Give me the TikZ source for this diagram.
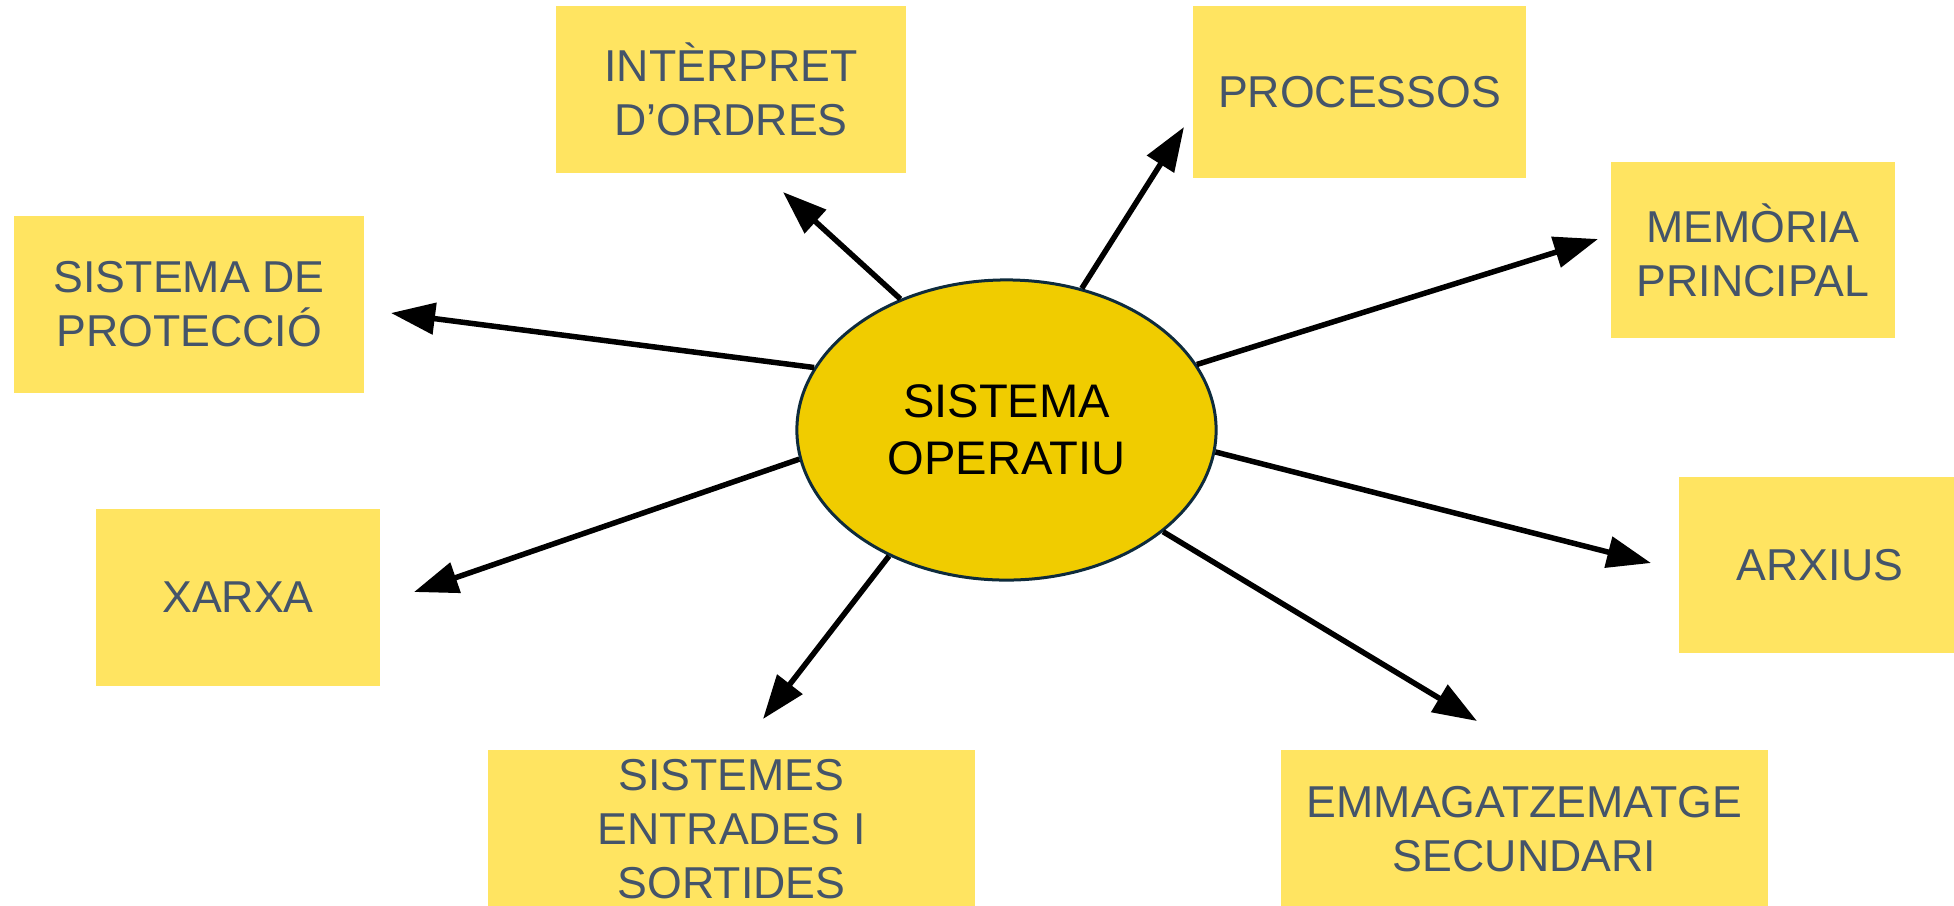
\documentclass[tikz,border=0pt]{standalone}
\usepackage{fontspec}
\setmainfont{Liberation Sans}
\usetikzlibrary{arrows.meta,shapes.geometric}

\definecolor{boxfill}{HTML}{FFE461}
\definecolor{boxtext}{HTML}{44546A}
\definecolor{sofill}{HTML}{F0CC00}
\definecolor{soline}{HTML}{0E2B3C}

\begin{document}
\begin{tikzpicture}[x=0.01cm,y=-0.01cm,
  box/.style={fill=boxfill,text=boxtext,align=center,inner sep=0cm,minimum height=1.76cm,
    font=\fontsize{12.7}{15.3}\selectfont},
  sys/.style={draw=soline,line width=0.03cm,fill=sofill,ellipse,align=center,inner sep=0cm,
    minimum width=4.19cm,minimum height=3cm,font=\fontsize{13.4}{16.2}\selectfont},
  arr/.style={line width=0.055cm,-{Triangle[length=0.44cm,width=0.31cm]}}]

  \useasboundingbox (0,0) rectangle (1954,905);
  \clip (0,0) rectangle (1954,905);

  \node[box,minimum width=3.50cm,minimum height=1.67cm] (int) at (731,89.5) {INTÈRPRET\\D’ORDRES};
  \node[box,minimum width=3.33cm,minimum height=1.72cm] (proc) at (1359.5,92) {PROCESSOS};
  \node[box,minimum width=2.84cm] (mem) at (1753,250) {MEMÒRIA\\PRINCIPAL};
  \node[box,minimum width=3.50cm] (prot) at (189,304.5) {SISTEMA DE\\PROTECCIÓ};
  \node[box,minimum width=2.84cm] (xarxa) at (238,597.5) {XARXA};
  \node[box,minimum width=2.82cm] (arx) at (1820,565) {ARXIUS};
  \node[box,minimum width=4.87cm,minimum height=1.58cm] (es) at (731.5,829) {SISTEMES\\ENTRADES I\\SORTIDES};
  \node[box,minimum width=4.87cm,minimum height=1.58cm] (emm) at (1524.5,829) {EMMAGATZEMATGE\\SECUNDARI};

  \node[sys] (SO) at (1006.5,430) {SISTEMA\\OPERATIU};

  \coordinate (tInt) at (783,192);
  \coordinate (tProc) at (1184,127);
  \coordinate (tMem) at (1598,239);
  \coordinate (tProt) at (391,313);
  \coordinate (tXarxa) at (414,592);
  \coordinate (tES) at (763,719);
  \coordinate (tEmm) at (1477,721);
  \coordinate (tArx) at (1651,563);

  \draw[arr] (SO.129) -- (tInt);
  \draw[arr] (SO.62) -- (tProc);
  \draw[arr] (SO.19) -- (tMem);
  \draw[arr] (SO.162.5) -- (tProt);
  \draw[arr] (SO.188.5) -- (tXarxa);
  \draw[arr] (SO.227.5) -- (tES);
  \draw[arr] (SO.327) -- (tEmm);
  \draw[arr] (SO.354) -- (tArx);

\end{tikzpicture}
\end{document}
